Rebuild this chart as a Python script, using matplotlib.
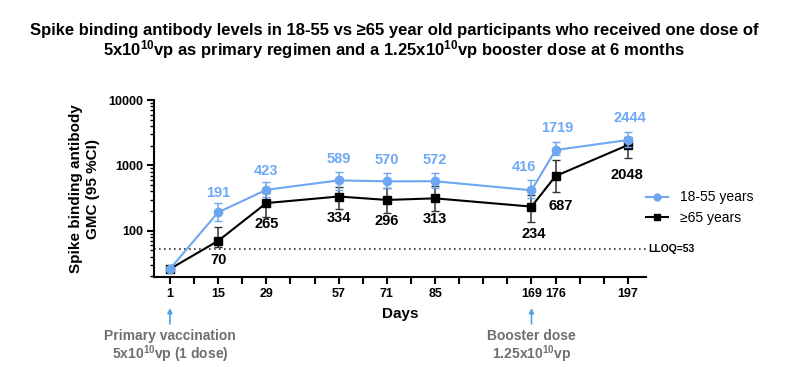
import numpy as np
import matplotlib
matplotlib.use("Agg")
import matplotlib.pyplot as plt
from matplotlib.lines import Line2D
from matplotlib.ticker import NullFormatter, LogLocator

plt.rcParams['font.family'] = ['Liberation Sans', 'DejaVu Sans']
plt.rcParams['mathtext.fontset'] = 'custom'
plt.rcParams['mathtext.rm'] = 'Liberation Sans'
plt.rcParams['mathtext.bf'] = 'Liberation Sans:bold'
plt.rcParams['mathtext.default'] = 'bf'

# data
days = [1, 15, 29, 57, 71, 85, 169, 176, 197]
slot = [0, 2, 4, 7, 9, 11, 15, 16, 19]   # place of each day on the (broken) x axis
n_slots = 20

young = [26, 191, 423, 589, 570, 572, 416, 1719, 2444]
young_lo = [24, 142, 330, 418, 447, 447, 313, 1433, 1910]
young_hi = [28, 262, 560, 795, 768, 768, 594, 2240, 3240]

old = [26, 70, 265, 334, 296, 313, 234, 687, 2048]
old_lo = [24, 57, 164, 212, 188, 200, 137, 394, 1275]
old_hi = [28, 113, 372, 470, 458, 481, 351, 1200, 2720]

lloq = 53

blue = '#6ea6f2'
blue_txt = '#6fa8f5'
grey_txt = '#6f6f6f'

fig = plt.figure(figsize=(7.88, 3.67), dpi=100)
ax = fig.add_axes([0.1954, 0.2452, 0.6244, 0.4823])
ax_h = 0.4823 * 367  # axes height in pixels

y_err = [np.array(young) - np.array(young_lo), np.array(young_hi) - np.array(young)]
o_err = [np.array(old) - np.array(old_lo), np.array(old_hi) - np.array(old)]

ax.errorbar(slot, old, yerr=o_err, color='black', ecolor='#333333', marker='s', ms=6,
            lw=1.5, elinewidth=1.1, capsize=3, zorder=3)
ax.errorbar(slot, young, yerr=y_err, color=blue, ecolor=blue, marker='o', ms=6,
            lw=1.5, elinewidth=1.1, capsize=3, zorder=4)

ax.axhline(lloq, color='#333333', ls=(0, (1, 2)), lw=1.2, clip_on=False)
ax.text(19.85, lloq, 'LLOQ=%d' % lloq, fontsize=7.5, fontweight='bold', va='center', ha='left')

# value labels
y_off = [None, (0, 19), (0, 19), (0, 21), (0, 21), (0, 21), (-8, 23), (2, 22), (2, 22)]
o_off = [None, (0, -19), (0, -21), (0, -21), (0, -21), (0, -21), (2, -27), (5, -30), (-1, -30)]
for i in range(1, len(days)):
    ax.annotate(str(young[i]), (slot[i], young[i]), xytext=y_off[i], textcoords='offset pixels',
                ha='center', va='center', color=blue_txt, fontsize=10.5, fontweight='bold')
    ax.annotate(str(old[i]), (slot[i], old[i]), xytext=o_off[i], textcoords='offset pixels',
                ha='center', va='center', color='black', fontsize=10.5, fontweight='bold')

ax.set_yscale('log')
ax.set_ylim(19.6, 10000)
ax.set_xlim(-0.66, n_slots - 0.25)
ax.set_yticks([100, 1000, 10000])
ax.set_yticklabels(['100', '1000', '10000'])
ax.yaxis.set_minor_locator(LogLocator(base=10, subs=np.arange(2, 10)))
ax.yaxis.set_minor_formatter(NullFormatter())

ax.set_xticks(range(n_slots))
ax.set_xticklabels([str(days[slot.index(k)]) if k in slot else '' for k in range(n_slots)])
ax.tick_params(axis='both', which='major', width=1.5, length=5, labelsize=9, pad=3)
ax.tick_params(axis='y', which='minor', width=1.0, length=3)
for lab in ax.get_xticklabels() + ax.get_yticklabels():
    lab.set_fontweight('bold')

for s in ['top', 'right']:
    ax.spines[s].set_visible(False)
for s in ['left', 'bottom']:
    ax.spines[s].set_linewidth(1.5)

ax.set_xlabel('Days', fontsize=11, fontweight='bold', labelpad=5)
ax.set_ylabel('Spike binding antibody\nGMC (95 %CI)', fontsize=11, fontweight='bold', labelpad=6)

handles = [Line2D([], [], color=blue, marker='o', ms=5, lw=1.5, label='18-55 years'),
           Line2D([], [], color='black', marker='s', ms=5, lw=1.5, label='\u226565 years')]
ax.legend(handles=handles, loc='upper left', bbox_to_anchor=(0.975, 0.56), frameon=False,
          fontsize=10, handlelength=1.6, labelspacing=0.5)

# dose arrows and notes
notes = ['Primary vaccination\n5x10$^{10}$vp (1 dose)', 'Booster dose\n1.25x10$^{10}$vp']
for k, note in zip([slot[0], slot[6]], notes):
    ax.annotate('', xy=(k, -31 / ax_h), xycoords=('data', 'axes fraction'),
                xytext=(k, -47 / ax_h), textcoords=('data', 'axes fraction'),
                arrowprops=dict(arrowstyle='-|>', color='#4ea3e6', lw=1.2, mutation_scale=7,
                                shrinkA=0, shrinkB=0))
    ax.annotate(note, (k, 0), xycoords=('data', 'axes fraction'), xytext=(0, -52),
                textcoords='offset pixels', ha='center', va='top', color=grey_txt,
                fontsize=10, fontweight='bold', linespacing=1.05)

fig.text(0.5, 0.886, 'Spike binding antibody levels in 18-55 vs \u226565 year old participants who received one dose of\n'
         '5x10$^{10}$vp as primary regimen and a 1.25x10$^{10}$vp booster dose at 6 months',
         ha='center', va='center', fontsize=12, fontweight='bold', linespacing=1.0)

fig.savefig('out.png', dpi=100)
